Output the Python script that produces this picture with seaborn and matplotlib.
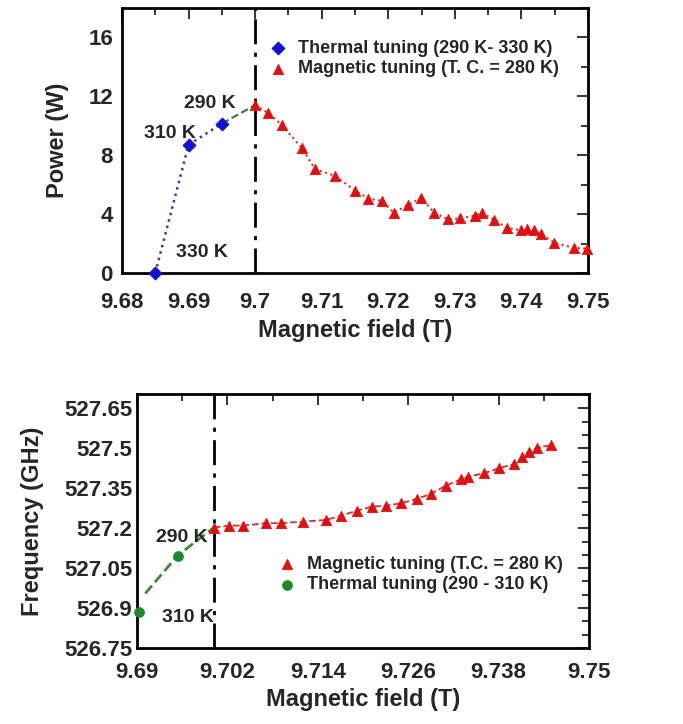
import numpy as np
import pandas as pd
import matplotlib
matplotlib.use("Agg")
import matplotlib.pyplot as plt
import seaborn as sns
from matplotlib.ticker import MultipleLocator, FixedLocator, FuncFormatter

# --- top panel: power vs field ---
thermal_field_p = [9.685, 9.690, 9.695]
thermal_power = [0.0, 8.7, 10.15]
thermal_temps_p = ["330 K", "310 K", "290 K"]
label_pos_p = [(9.6920, 1.36), (9.6872, 9.44), (9.6932, 11.48)]

mag_field_p = [9.700, 9.702, 9.704, 9.707, 9.709, 9.712, 9.715, 9.717, 9.719,
               9.7208, 9.7229, 9.7249, 9.7269, 9.7289, 9.7308, 9.733, 9.734,
               9.7359, 9.7379, 9.7399, 9.7408, 9.7419, 9.7429, 9.7449, 9.7479, 9.7499]
mag_power = [11.4, 10.85, 10.05, 8.5, 7.05, 6.6, 5.6, 5.05, 4.9, 4.1, 4.6, 5.1,
             4.1, 3.65, 3.7, 3.9, 4.1, 3.6, 3.05, 2.9, 3.0, 2.9, 2.65, 2.05, 1.7, 1.65]

# --- bottom panel: frequency vs field ---
thermal_field_f = [9.6902, 9.6954]
thermal_freq = [526.885, 527.0975]
thermal_temps_f = ["310 K", "290 K"]
label_pos_f = [(9.6968, 526.866), (9.6960, 527.166)]

mag_field_f = [9.7002, 9.7022, 9.7041, 9.7071, 9.7091, 9.7121, 9.7151, 9.7171,
               9.7192, 9.7212, 9.7231, 9.7251, 9.7271, 9.7290, 9.7310, 9.7330,
               9.7340, 9.7360, 9.7380, 9.7400, 9.7411, 9.7420, 9.7431, 9.7450]
mag_freq = [527.2025, 527.21, 527.21, 527.219, 527.219, 527.225, 527.231, 527.2475,
            527.266, 527.281, 527.285, 527.294, 527.31, 527.329, 527.36, 527.384,
            527.394, 527.406, 527.425, 527.441, 527.466, 527.4875, 527.5025, 527.5125]

xticks_f = [9.69, 9.702, 9.714, 9.726, 9.738, 9.75]
yticks_f = [526.75, 526.9, 527.05, 527.2, 527.35, 527.5, 527.65]

sns.set_style("white")
plt.rcParams['font.family'] = ['Liberation Sans', 'DejaVu Sans']
plt.rcParams['font.weight'] = 'bold'

fig = plt.figure(figsize=(6.83, 7.24), dpi=100)
ax1 = fig.add_axes([0.1786, 0.623, 0.6824, 0.366])
ax2 = fig.add_axes([0.2006, 0.105, 0.6618, 0.351])

dashdot = (0, (9, 3, 1.5, 3))
tick_fs = 16
lab_fs = 17

def style_axes(ax, xpad, ypad):
    for s in ax.spines.values():
        s.set_linewidth(2)
        s.set_color("black")
    ax.tick_params(which="both", direction="in", top=True, right=True,
                   width=1.3, labelsize=tick_fs)
    ax.tick_params(axis="x", pad=xpad)
    ax.tick_params(axis="y", pad=ypad)
    ax.tick_params(which="major", length=8)
    ax.tick_params(which="minor", length=5)
    for lbl in ax.get_xticklabels() + ax.get_yticklabels():
        lbl.set_fontweight("bold")

fmt = FuncFormatter(lambda v, p: f"{round(v, 3):g}")
leg_kw = dict(frameon=False, handlelength=1, handletextpad=0.6, borderpad=0,
              borderaxespad=0, labelspacing=0.2, prop={"weight": "bold", "size": 13})

# ---- top
sns.lineplot(x=thermal_field_p, y=thermal_power, ax=ax1, color="#3a3a9a",
             linestyle=":", linewidth=1.8, sort=False)
ax1.plot([thermal_field_p[-1], mag_field_p[0]], [thermal_power[-1], mag_power[0]],
         color="#3a7a3a", linestyle="--", linewidth=1.5)
sns.lineplot(x=mag_field_p, y=mag_power, ax=ax1, color="#cc3333",
             linestyle=":", linewidth=1.5, sort=False)
sns.scatterplot(x=thermal_field_p, y=thermal_power, ax=ax1, marker="D", s=45,
                color="#1010d0", edgecolor="#1010d0", zorder=5, clip_on=False,
                label="Thermal tuning (290 K- 330 K)")
sns.scatterplot(x=mag_field_p, y=mag_power, ax=ax1, marker="^", s=55,
                color="#e01010", edgecolor="#e01010", zorder=5, clip_on=False,
                label="Magnetic tuning (T. C. = 280 K)")
ax1.axvline(9.70, color="black", linestyle=dashdot, linewidth=2)
ax1.set_xlim(9.68, 9.75)
ax1.set_ylim(0, 18)
ax1.xaxis.set_major_locator(MultipleLocator(0.01))
ax1.xaxis.set_minor_locator(MultipleLocator(0.005))
ax1.yaxis.set_major_locator(MultipleLocator(4))
ax1.yaxis.set_minor_locator(MultipleLocator(2))
ax1.xaxis.set_major_formatter(fmt)
ax1.set_xlabel("Magnetic field (T)", fontsize=lab_fs, fontweight="bold", labelpad=4)
ax1.set_ylabel("Power (W)", fontsize=lab_fs, fontweight="bold", labelpad=14)
style_axes(ax1, 14, 6.5)
ax1.legend(loc="center left", bbox_to_anchor=(0.315, 0.809), **leg_kw)
for (tx, ty), t in zip(label_pos_p, thermal_temps_p):
    ax1.text(tx, ty, t, fontsize=14, fontweight="bold", ha="center", va="center")

# ---- bottom
ax2.plot([9.6911, thermal_field_f[1], mag_field_f[0]],
         [526.955, thermal_freq[1], mag_freq[0]],
         color="#3a8a3a", linestyle="--", linewidth=2)
sns.lineplot(x=mag_field_f, y=mag_freq, ax=ax2, color="#cc3333",
             linestyle="--", linewidth=1.3, sort=False)
sns.scatterplot(x=mag_field_f, y=mag_freq, ax=ax2, marker="^", s=55,
                color="#e01010", edgecolor="#e01010", zorder=5, clip_on=False,
                label="Magnetic tuning (T.C. = 280 K)")
sns.scatterplot(x=thermal_field_f, y=thermal_freq, ax=ax2, marker="o", s=50,
                color="#1a8a2a", edgecolor="#1a8a2a", zorder=5, clip_on=False,
                label="Thermal tuning (290 - 310 K)")
ax2.axvline(9.7002, color="black", linestyle=dashdot, linewidth=2)
ax2.set_xlim(9.69, 9.75)
ax2.set_ylim(526.75, 527.705)
ax2.xaxis.set_major_locator(FixedLocator(xticks_f))
ax2.xaxis.set_minor_locator(FixedLocator([v + 0.006 for v in xticks_f[:-1]]))
ax2.yaxis.set_major_locator(FixedLocator(yticks_f))
ax2.yaxis.set_minor_locator(FixedLocator(
    [v + d for v in yticks_f for d in (0.05, 0.1)]))
ax2.xaxis.set_major_formatter(fmt)
ax2.yaxis.set_major_formatter(fmt)
ax2.set_xlabel("Magnetic field (T)", fontsize=lab_fs, fontweight="bold", labelpad=4)
ax2.set_ylabel("Frequency (GHz)", fontsize=lab_fs, fontweight="bold", labelpad=14)
style_axes(ax2, 10, 3.5)
ax2.legend(loc="center left", bbox_to_anchor=(0.312, 0.289), **leg_kw)
for (tx, ty), t in zip(label_pos_f, thermal_temps_f):
    ax2.text(tx, ty, t, fontsize=14, fontweight="bold", ha="center", va="center")

fig.savefig("out.png", dpi=100)
